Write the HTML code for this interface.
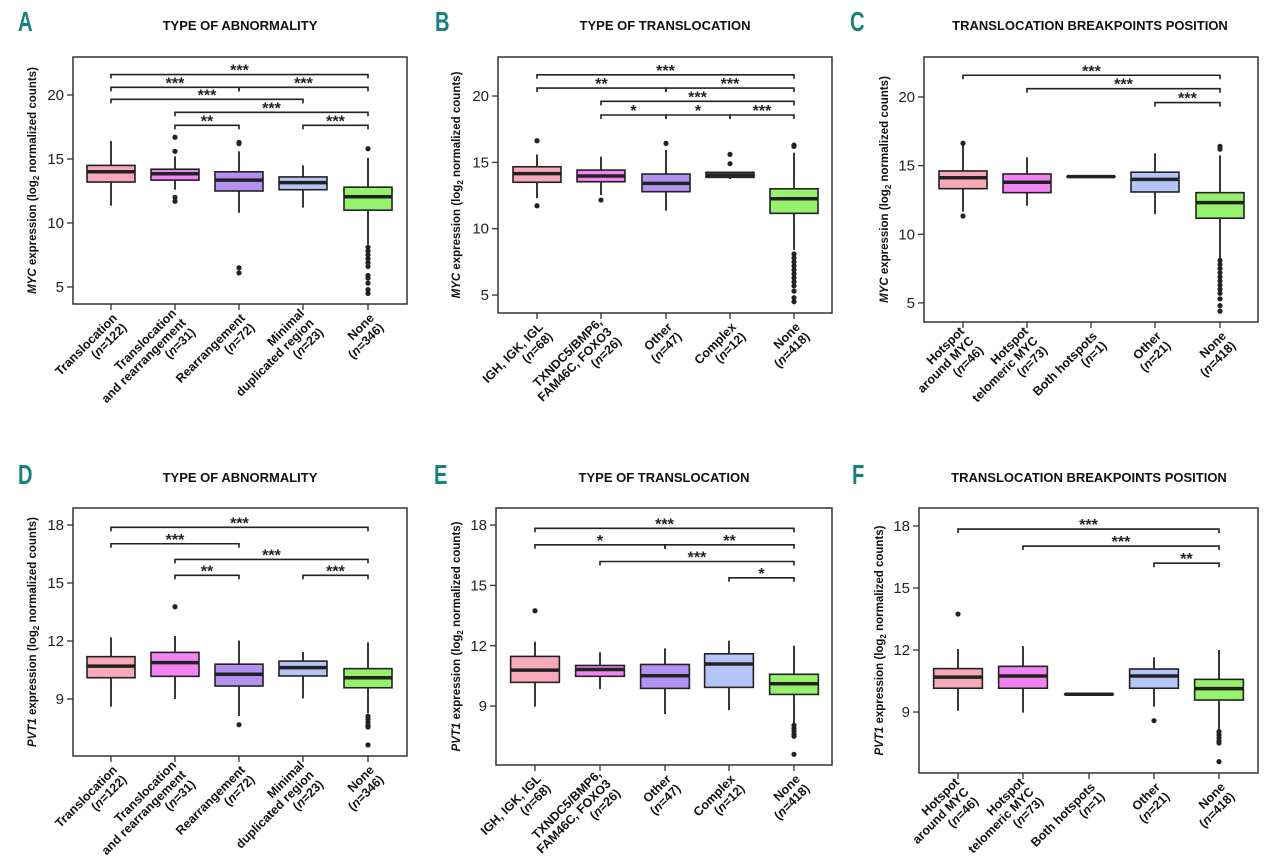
<!DOCTYPE html>
<html><head><meta charset="utf-8"><style>
body{margin:0;background:#fff}
svg{display:block}
text{font-family:"Liberation Sans",Arial,sans-serif}
</style></head><body>
<svg id="fig" width="1280" height="866" viewBox="0 0 1280 866" xmlns="http://www.w3.org/2000/svg"></svg>
<script>
// ---------- data ----------
const catsA = [["Translocation","(n=122)"],["Translocation","and rearrangement","(n=31)"],["Rearrangement","(n=72)"],["Minimal","duplicated region","(n=23)"],["None","(n=346)"]];
const catsB = [["IGH, IGK, IGL","(n=68)"],["TXNDC5/BMP6,","FAM46C, FOXO3","(n=26)"],["Other","(n=47)"],["Complex","(n=12)"],["None","(n=418)"]];
const catsC = [["Hotspot","around MYC","(n=46)"],["Hotspot","telomeric MYC","(n=73)"],["Both hotspots","(n=1)"],["Other","(n=21)"],["None","(n=418)"]];
const colors = ["#f7a9ba","#f284f2","#b391f2","#b3c6f7","#96f26c"];

// box stats: [lowWhisker, q1, median, q3, highWhisker]
const statsA = [[11.35,13.2,14.0,14.5,16.4],[12.6,13.35,13.85,14.2,15.2],[10.8,12.5,13.35,14.0,15.6],[11.2,12.6,13.15,13.6,14.5],[8.3,11.0,12.05,12.8,15.1]];
const outA = [[],[16.7,15.6,12.0,11.7],[16.3,16.2,6.5,6.1],[],[15.8,8.1,7.8,7.5,7.2,6.9,6.6,5.9,5.7,5.3,4.8,4.5]];
const sigA = [[0,4,21.6,"***"],[0,2,20.6,"***"],[2,4,20.6,"***"],[0,3,19.66,"***"],[1,4,18.65,"***"],[1,2,17.63,"**"],[3,4,17.63,"***"]];

const statsB = [[12.3,13.5,14.15,14.67,15.6],[12.54,13.54,13.97,14.42,15.43],[11.36,12.79,13.42,14.12,15.93],[13.75,13.87,14.05,14.25,14.3],[8.4,11.16,12.26,13.01,15.73]];
const outB = [[16.63,11.73],[12.16],[16.43],[15.6,14.9],[16.3,16.2,8.1,7.8,7.5,7.2,6.9,6.6,6.3,6.0,5.7,5.3,4.8,4.5]];
const sigB = [[0,4,21.6,"***"],[0,2,20.6,"**"],[2,4,20.6,"***"],[1,4,19.6,"***"],[1,2,18.57,"*"],[2,3,18.57,"*"],[3,4,18.57,"***"]];

const statsC = [[11.65,13.32,14.12,14.61,16.5],[12.08,13.03,13.79,14.39,15.6],[14.2,14.2,14.2,14.2,14.2],[11.46,13.08,14.0,14.52,15.9],[8.25,11.17,12.3,13.03,15.75]];
const outC = [[16.63,11.33],[],[],[],[16.4,16.2,8.1,7.8,7.5,7.2,6.9,6.6,6.3,6.0,5.7,5.3,4.8,4.4]];
const sigC = [[0,4,21.58,"***"],[1,4,20.6,"***"],[3,4,19.59,"***"]];

const statsD = [[8.6,10.1,10.7,11.19,12.19],[9.0,10.17,10.88,11.41,12.26],[8.12,9.67,10.28,10.8,12.02],[9.03,10.19,10.62,10.96,11.43],[8.26,9.58,10.1,10.57,11.93]];
const outD = [[],[13.77],[7.67],[],[8.1,7.95,7.8,7.65,7.55,6.62]];
const sigD = [[0,4,17.88,"***"],[0,2,17.03,"***"],[1,4,16.22,"***"],[1,2,15.4,"**"],[3,4,15.4,"***"]];

const statsE = [[8.97,10.18,10.79,11.47,12.2],[9.85,10.48,10.82,11.02,11.68],[8.6,9.88,10.51,11.07,11.87],[8.8,9.93,11.09,11.6,12.25],[8.14,9.58,10.11,10.58,12.0]];
const outE = [[13.74],[],[],[],[8.05,7.9,7.75,7.6,7.5,6.6]];
const sigE = [[0,4,17.84,"***"],[0,2,17.02,"*"],[2,4,17.02,"**"],[1,4,16.19,"***"],[3,4,15.38,"*"]];

const statsF = [[9.06,10.15,10.69,11.1,12.05],[8.97,10.15,10.74,11.21,12.19],[9.86,9.86,9.86,9.86,9.86],[9.26,10.15,10.74,11.08,11.65],[8.13,9.58,10.13,10.58,12.0]];
const outF = [[13.74],[],[],[8.58],[8.05,7.9,7.75,7.6,7.5,6.6]];
const sigF = [[0,4,17.85,"***"],[1,4,17.03,"***"],[3,4,16.2,"**"]];

const ticksMYC = [5,10,15,20];
const ticksPVT = [9,12,15,18];

// ---------- layout ----------
const panels = [
 {id:"a",letter:"A",title:"TYPE OF ABNORMALITY",gene:"MYC",x0:73,x1:407,y0:57,y1:304,vTop:22.97,vBot:3.67,cx:[111,175,239,303,368],cats:catsA,stats:statsA,out:outA,sig:sigA,ticks:ticksMYC,lx:18,ly:31,tx:240,ty:30,ax:36},
 {id:"b",letter:"B",title:"TYPE OF TRANSLOCATION",gene:"MYC",x0:498,x1:832,y0:57,y1:313,vTop:22.94,vBot:3.65,cx:[537,601,666,730,794],cats:catsB,stats:statsB,out:outB,sig:sigB,ticks:ticksMYC,lx:435,ly:31,tx:665,ty:30,ax:460},
 {id:"c",letter:"C",title:"TRANSLOCATION BREAKPOINTS POSITION",gene:"MYC",x0:924,x1:1258,y0:57,y1:322,vTop:22.91,vBot:3.61,cx:[963,1027,1091,1155,1220],cats:catsC,stats:statsC,out:outC,sig:sigC,ticks:ticksMYC,lx:850,ly:31,tx:1090,ty:30,ax:888},
 {id:"d",letter:"D",title:"TYPE OF ABNORMALITY",gene:"PVT1",x0:73,x1:407,y0:508,y1:756,vTop:18.88,vBot:6.05,cx:[111,175,239,303,368],cats:catsA,stats:statsD,out:outD,sig:sigD,ticks:ticksPVT,lx:18,ly:484,tx:240,ty:482,ax:36},
 {id:"e",letter:"E",title:"TYPE OF TRANSLOCATION",gene:"PVT1",x0:496,x1:832,y0:508,y1:765,vTop:18.85,vBot:6.07,cx:[535,600,665,729,794],cats:catsB,stats:statsE,out:outE,sig:sigE,ticks:ticksPVT,lx:434,ly:484,tx:664,ty:482,ax:460},
 {id:"f",letter:"F",title:"TRANSLOCATION BREAKPOINTS POSITION",gene:"PVT1",x0:919,x1:1258,y0:508,y1:773,vTop:18.87,vBot:6.05,cx:[958,1023,1089,1154,1219],cats:catsC,stats:statsF,out:outF,sig:sigF,ticks:ticksPVT,lx:852,ly:484,tx:1089,ty:482,ax:883}
];

const NS="http://www.w3.org/2000/svg";
const svg=document.getElementById("fig");
function mk(tag,attrs,parent){const e=document.createElementNS(NS,tag);for(const k in attrs)e.setAttribute(k,attrs[k]);(parent||svg).appendChild(e);return e;}

panels.forEach(p=>{
  const g=mk("g",{});
  
  
  const y=v=>p.y0+(p.vTop-v)/(p.vTop-p.vBot)*(p.y1-p.y0);
  const bw=(p.cx[1]-p.cx[0])*0.75;

  const L=mk("text",{x:p.lx,y:p.ly,"font-size":28,"font-weight":"bold",fill:"#17817c",transform:`translate(${p.lx} ${p.ly}) scale(0.72 1) translate(${-p.lx} ${-p.ly})`},g);
  L.textContent=p.letter;
  
  

  const T=mk("text",{x:p.tx,y:p.ty,"font-size":13,"font-weight":"bold","text-anchor":"middle",fill:"#111"},g);
  T.textContent=p.title;
  
  

  const ymid=(p.y0+p.y1)/2;
  const AT=mk("text",{x:0,y:0,"font-size":11.5,"font-weight":"bold","text-anchor":"middle",fill:"#111",transform:`translate(${p.ax} ${ymid}) rotate(-90)`},g);
  
  
  const t1=mk("tspan",{"font-style":"italic"},AT);t1.textContent=p.gene+" ";
  const t2=mk("tspan",{},AT);t2.textContent=" expression (log";
  const t3=mk("tspan",{"font-size":8,dy:3},AT);t3.textContent="2";
  const t4=mk("tspan",{dy:-3},AT);t4.textContent=" normalized counts)";

  const F=mk("rect",{x:p.x0,y:p.y0,width:p.x1-p.x0,height:p.y1-p.y0,fill:"none",stroke:"#333","stroke-width":1.5},g);
  
  

  p.ticks.forEach(t=>{
    const yy=y(t);
    const tk=mk("line",{x1:p.x0-6,x2:p.x0,y1:yy,y2:yy,stroke:"#333","stroke-width":1.3},g);
    
    
    const tl=mk("text",{x:p.x0-9,y:yy+5,"font-size":15,"text-anchor":"end",fill:"#222"},g);
    tl.textContent=t;
    
    
  });

  p.cats.forEach((lines,i)=>{
    const x=p.cx[i];
    const tk=mk("line",{x1:x,x2:x,y1:p.y1,y2:p.y1+6,stroke:"#333","stroke-width":1.3},g);
    
    
    const n=lines.length;
    const tx=mk("text",{x:0,y:0,"font-size":12.5,"font-weight":"bold","text-anchor":"end",fill:"#111",transform:`translate(${x+8} ${p.y1+16}) rotate(-45)`},g);
    
    
    lines.forEach((ln,j)=>{
      const ts=mk("tspan",{x:0,y:(j-(n-1)/2)*13.5+5},tx);
      const m=ln.match(/^\(n=(.*)\)$/);
      if(m){const a=mk("tspan",{},ts);a.textContent="(";const b=mk("tspan",{"font-style":"italic"},ts);b.textContent="n";const c=mk("tspan",{},ts);c.textContent="="+m[1]+")";}
      else ts.textContent=ln;
    });
  });

  p.stats.forEach((s,i)=>{
    const x=p.cx[i];
    const bg=mk("g",{},g);
    
    
    mk("line",{x1:x,x2:x,y1:y(s[4]),y2:y(s[3]),stroke:"#222","stroke-width":1.8},bg);
    mk("line",{x1:x,x2:x,y1:y(s[1]),y2:y(s[0]),stroke:"#222","stroke-width":1.8},bg);
    const h=Math.max(y(s[1])-y(s[3]),0.01);
    mk("rect",{x:x-bw/2,y:y(s[3]),width:bw,height:h,fill:colors[i],stroke:"#222","stroke-width":1.6},bg);
    mk("line",{x1:x-bw/2,x2:x+bw/2,y1:y(s[2]),y2:y(s[2]),stroke:"#222","stroke-width":3.5},bg);
    p.out[i].forEach(v=>{
      const c=mk("circle",{cx:x,cy:y(v),r:2.6,fill:"#222"},bg);
      
      
    });
  });

  p.sig.forEach(sg=>{
    const xa=p.cx[sg[0]],xb=p.cx[sg[1]],yy=y(sg[2]);
    const sgG=mk("g",{},g);
    
    
    mk("path",{d:`M${xa} ${yy+4}V${yy}H${xb}V${yy+4}`,fill:"none",stroke:"#222","stroke-width":1.6},sgG);
    const st=mk("text",{x:(xa+xb)/2,y:yy+1,"font-size":16,"font-weight":"bold","text-anchor":"middle",fill:"#222"},sgG);
    st.textContent=sg[3];
  });
});
</script>
</body></html>
